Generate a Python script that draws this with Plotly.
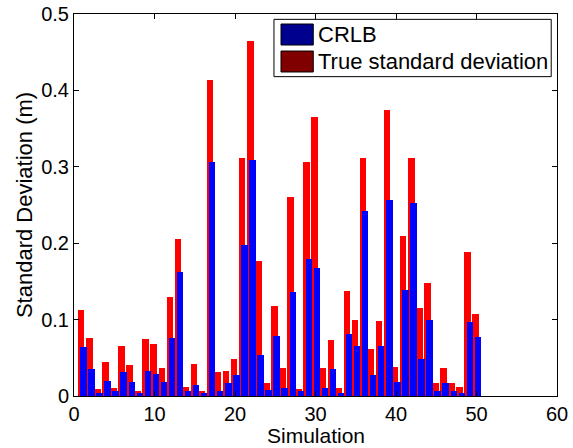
import plotly.graph_objects as go

simulation = list(range(1, 51))
true_std = [0.113, 0.076, 0.009, 0.044, 0.010, 0.065, 0.040, 0.006, 0.075, 0.068,
            0.037, 0.130, 0.206, 0.012, 0.042, 0.006, 0.414, 0.032, 0.033, 0.049,
            0.312, 0.465, 0.177, 0.017, 0.118, 0.037, 0.261, 0.009, 0.306, 0.365,
            0.037, 0.073, 0.010, 0.138, 0.099, 0.312, 0.061, 0.098, 0.374, 0.038,
            0.210, 0.312, 0.115, 0.148, 0.017, 0.037, 0.017, 0.012, 0.189, 0.107]
crlb = [0.064, 0.035, 0.004, 0.020, 0.006, 0.031, 0.018, 0.004, 0.033, 0.029,
        0.018, 0.076, 0.162, 0.006, 0.014, 0.004, 0.306, 0.006, 0.017, 0.028,
        0.198, 0.309, 0.054, 0.008, 0.079, 0.011, 0.136, 0.006, 0.179, 0.167,
        0.011, 0.035, 0.004, 0.081, 0.065, 0.242, 0.028, 0.065, 0.256, 0.018,
        0.139, 0.253, 0.049, 0.100, 0.006, 0.017, 0.006, 0.004, 0.097, 0.077]

legend_labels = ["CRLB", "True standard deviation"]
legend_colors = ["#00008F", "#800000"]
x_title = "Simulation"
y_title = "Standard Deviation (m)"

FONT = "Liberation Sans, Arial, Helvetica, sans-serif"

fig = go.Figure()
fig.add_trace(go.Bar(x=simulation, y=true_std, name=legend_labels[1],
                     marker=dict(color="#FF0000", line=dict(width=0)),
                     width=0.8, offset=-0.5, showlegend=False))
fig.add_trace(go.Bar(x=simulation, y=crlb, name=legend_labels[0],
                     marker=dict(color="#0000FF", line=dict(width=0)),
                     width=0.8, offset=-0.23, showlegend=False))

# custom legend (box + swatches + labels) in paper coordinates
shapes = [dict(type="rect", xref="paper", yref="paper", x0=0.414, x1=0.988,
               y0=0.836, y1=0.986, line=dict(color="black", width=1),
               fillcolor="white", layer="above")]
sw_y = [(0.9188, 0.9738), (0.8482, 0.9031)]
annotations = []
for (y0, y1), lab, col in zip(sw_y, legend_labels, legend_colors):
    shapes.append(dict(type="rect", xref="paper", yref="paper", x0=0.4286, x1=0.4954,
                       y0=y0, y1=y1, line=dict(color="black", width=1),
                       fillcolor=col, layer="above"))
    annotations.append(dict(xref="paper", yref="paper", x=0.5045, y=(y0 + y1) / 2,
                            text=lab, showarrow=False, xanchor="left", yanchor="middle",
                            xshift=-2,
                            font=dict(family=FONT, size=22, color="black")))

# x-axis title placed just below the tick labels
annotations.append(dict(xref="paper", yref="paper", x=0.5, y=-0.1365,
                        text=x_title, showarrow=False, xanchor="center", yanchor="bottom",
                        borderpad=0,
                        font=dict(family=FONT, size=21, color="black")))

fig.update_layout(
    width=573, height=448,
    margin=dict(l=74, r=16, t=14, b=52),
    plot_bgcolor="white", paper_bgcolor="white",
    barmode="overlay", bargap=0,
    font=dict(family=FONT, size=20, color="black"),
    shapes=shapes, annotations=annotations,
    xaxis=dict(range=[0, 60], dtick=10, tick0=0, showgrid=False, zeroline=False,
               showline=True, linecolor="black", linewidth=1, mirror="ticks",
               ticks="inside", ticklen=5, tickcolor="black", automargin=False),
    yaxis=dict(range=[0, 0.5], dtick=0.1, tick0=0, showgrid=False, zeroline=False,
               showline=True, linecolor="black", linewidth=1, mirror="ticks",
               ticks="inside", ticklen=5, tickcolor="black", automargin=False,
               title=dict(text=y_title, font=dict(size=22), standoff=2)),
)

fig.write_html("out.html")
